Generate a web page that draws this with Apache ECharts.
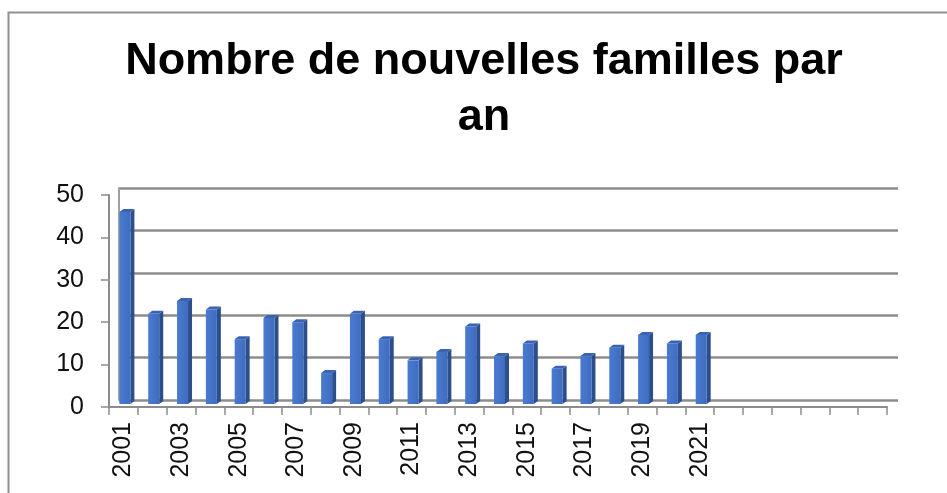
<!DOCTYPE html>
<html>
<head>
<meta charset="utf-8">
<script src="https://cdn.jsdelivr.net/npm/echarts@6/dist/echarts.min.js"></script>
<style>
html,body{margin:0;padding:0;background:#fff;}
#chart{width:947px;height:493px;}
</style>
</head>
<body>
<div id="chart"></div>
<script>
const titleText = "Nombre de nouvelles familles par\nan";
const categories = ["2001","2002","2003","2004","2005","2006","2007","2008","2009","2010","2011","2012","2013","2014","2015","2016","2017","2018","2019","2020","2021","","","","","",""];
const values = [46,22,25,23,16,21,20,8,22,16,11,13,19,12,15,9,12,14,17,15,17];
const yMin = 0, yMax = 50, yInterval = 10;

const chart = echarts.init(document.getElementById('chart'), null, {renderer:'canvas'});
const labelFont = '"Liberation Sans", Arial, sans-serif';

function renderBar(params, api) {
  const idx = api.value(0);
  const v = api.value(1);
  const top = api.coord([idx, v]);
  const base = api.coord([idx, 0]);
  const cx = top[0];
  const x0 = cx - 4, x1 = cx + 7;
  const dx = 4, dy = -3;
  const yb = base[1] - 3;
  const yt = top[1];
  return {
    type: 'group',
    children: [
      {type:'polygon', shape:{points:[[x1,yb],[x1+dx,yb+dy],[x1+dx,yt+dy],[x1,yt]]}, style:{fill:'#2c4f8c'}},
      {type:'polygon', shape:{points:[[x0,yt],[x0+dx,yt+dy],[x1+dx,yt+dy],[x1,yt]]}, style:{fill:'#3a64b3'}},
      {type:'rect', shape:{x:x0, y:yt, width:x1-x0, height:yb-yt}, style:{fill:new echarts.graphic.LinearGradient(0,0,1,0,[{offset:0,color:'#4a7bd0'},{offset:1,color:'#3f6cbf'}])}}
    ]
  };
}

const option = {
  backgroundColor: '#fff',
  animation: false,
  title: {
    text: titleText,
    left: 479,
    top: 29,
    textAlign: 'center',
    textStyle: {fontFamily: labelFont, fontWeight: 'bold', fontSize: 45, lineHeight: 56, color: '#000'}
  },
  graphic: [
    {type:'rect', left:6, top:10, shape:{width:1000, height:1000}, style:{fill:null, stroke:'#8f8f8f', lineWidth:2}, silent:true, z:-10}
  ],
  grid: [
    {left:109, right:60, top:195, bottom:86},
    {left:119, right:49, top:188, bottom:93}
  ],
  xAxis: [
    {type:'category', gridIndex:0, data:categories, boundaryGap:true,
     axisLine:{show:true, lineStyle:{color:'#8c8c8c', width:2}},
     axisTick:{show:true, alignWithLabel:false, interval:0, length:8, lineStyle:{color:'#8c8c8c', width:1.5}},
     axisLabel:{interval:1, rotate:90, margin:15, fontFamily:labelFont, fontSize:25, color:'#111'},
     splitLine:{show:false}},
    {type:'category', gridIndex:1, data:categories, show:false}
  ],
  yAxis: [
    {type:'value', gridIndex:0, min:yMin, max:yMax, interval:yInterval,
     axisLine:{show:true, lineStyle:{color:'#8c8c8c', width:2}},
     axisTick:{show:true, length:8, lineStyle:{color:'#8c8c8c', width:1.5}},
     axisLabel:{margin:25, fontFamily:labelFont, fontSize:25, color:'#111'},
     splitLine:{show:false}},
    {type:'value', gridIndex:1, min:yMin, max:yMax, interval:yInterval,
     axisLine:{show:true, lineStyle:{color:'#a0a0a0', width:2}},
     axisTick:{show:false}, axisLabel:{show:false},
     splitLine:{show:true, lineStyle:{color:'#8c8c8c', width:2.5}}}
  ],
  series: [
    {type:'custom', xAxisIndex:0, yAxisIndex:0, renderItem:renderBar,
     data: values.map((v,i)=>[i,v]), z:5}
  ]
};
chart.setOption(option);
</script>
</body>
</html>
